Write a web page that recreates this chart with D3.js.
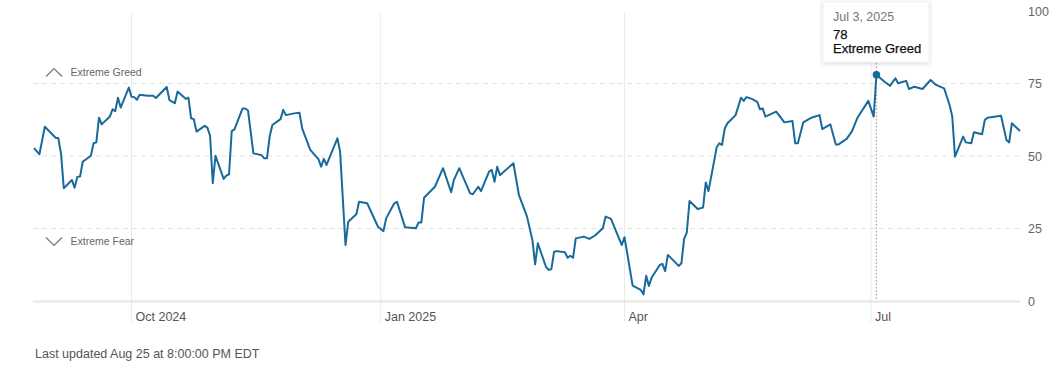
<!DOCTYPE html>
<html>
<head>
<meta charset="utf-8">
<script src="https://cdn.jsdelivr.net/npm/d3@7"></script>
<style>
  html, body { margin: 0; padding: 0; background: #fff; }
  svg { display: block; font-family: "Liberation Sans", Arial, Helvetica, sans-serif; }
</style>
</head>
<body>
<svg id="chart" width="1063" height="369"></svg>
<script>
const dates = [
"2024-08-26","2024-08-28","2024-08-30",
"2024-09-03","2024-09-04","2024-09-05","2024-09-06","2024-09-09","2024-09-10","2024-09-11","2024-09-12","2024-09-13","2024-09-16","2024-09-17","2024-09-18","2024-09-19","2024-09-20","2024-09-23","2024-09-24","2024-09-25","2024-09-26","2024-09-27","2024-09-30",
"2024-10-01","2024-10-02","2024-10-03","2024-10-04","2024-10-07","2024-10-09","2024-10-10","2024-10-14","2024-10-15","2024-10-17","2024-10-18","2024-10-21","2024-10-22","2024-10-23","2024-10-24","2024-10-25","2024-10-28","2024-10-29","2024-10-30","2024-10-31",
"2024-11-01","2024-11-04","2024-11-05","2024-11-06","2024-11-07","2024-11-08","2024-11-11","2024-11-12","2024-11-13","2024-11-15","2024-11-18","2024-11-19","2024-11-20","2024-11-21","2024-11-22","2024-11-25","2024-11-26","2024-11-27","2024-11-30",
"2024-12-02","2024-12-03","2024-12-04","2024-12-06","2024-12-09","2024-12-10","2024-12-11","2024-12-12","2024-12-16","2024-12-17","2024-12-19","2024-12-20","2024-12-23","2024-12-24","2024-12-27","2024-12-31",
"2025-01-02","2025-01-03","2025-01-06","2025-01-07","2025-01-10","2025-01-14","2025-01-15","2025-01-16","2025-01-17","2025-01-21","2025-01-24","2025-01-27","2025-01-28","2025-01-30",
"2025-02-03","2025-02-04","2025-02-06","2025-02-07","2025-02-10","2025-02-11","2025-02-12","2025-02-13","2025-02-14","2025-02-19","2025-02-21","2025-02-24","2025-02-26","2025-02-27","2025-02-28",
"2025-03-03","2025-03-04","2025-03-05","2025-03-06","2025-03-07","2025-03-10","2025-03-11","2025-03-12","2025-03-13","2025-03-14","2025-03-17","2025-03-19","2025-03-21","2025-03-24","2025-03-25","2025-03-27","2025-03-31",
"2025-04-01","2025-04-04","2025-04-07","2025-04-08","2025-04-09","2025-04-10","2025-04-11","2025-04-14","2025-04-15","2025-04-16","2025-04-17","2025-04-21","2025-04-22","2025-04-23","2025-04-24","2025-04-25","2025-04-28","2025-04-30",
"2025-05-01","2025-05-02","2025-05-05","2025-05-06","2025-05-07","2025-05-08","2025-05-09","2025-05-12","2025-05-14","2025-05-15","2025-05-16","2025-05-18","2025-05-20","2025-05-21","2025-05-22","2025-05-23","2025-05-27","2025-05-28","2025-05-30",
"2025-06-02","2025-06-03","2025-06-04","2025-06-06","2025-06-09","2025-06-12","2025-06-13","2025-06-16","2025-06-18","2025-06-19","2025-06-22","2025-06-24","2025-06-26","2025-06-30",
"2025-07-02","2025-07-03","2025-07-06","2025-07-08","2025-07-10","2025-07-11","2025-07-14","2025-07-15","2025-07-17","2025-07-20","2025-07-23","2025-07-25","2025-07-28","2025-07-30","2025-07-31",
"2025-08-01","2025-08-04","2025-08-05","2025-08-07","2025-08-08","2025-08-11","2025-08-12","2025-08-13","2025-08-18","2025-08-20","2025-08-21","2025-08-22","2025-08-25"
];
const values = [
52.7,50.6,60.1,
56.3,56.1,50.6,38.9,41.7,39.1,42.8,42.9,48.0,50.1,54.4,54.7,63.2,60.9,63.6,66.1,65.5,70.1,66.7,73.6,
70.4,70.3,69.4,71.1,70.8,70.8,70.0,73.8,69.3,68.2,72.2,69.7,70.1,63.0,62.7,58.4,60.4,59.8,57.0,40.6,
50.1,42.1,43.2,43.7,58.6,59.2,66.4,66.4,65.7,50.9,50.3,49.2,49.2,56.7,60.7,62.7,65.9,64.1,64.7,
64.9,59.5,57.0,52.1,48.9,46.3,49.0,46.9,56.1,51.5,19.3,27.3,29.9,34.2,33.7,25.6,
24.1,28.5,33.7,34.2,25.4,25.1,27.1,27.1,35.6,39.4,45.8,37.5,41.7,45.8,
37.1,36.8,39.4,37.9,44.6,45.2,41.1,46.3,43.4,47.5,36.6,29.1,21.0,12.6,19.9,
11.8,10.7,11.0,17.0,17.2,16.8,14.9,15.6,14.9,21.6,22.2,21.4,22.5,25.1,29.1,28.3,19.3,
22.0,5.3,3.8,2.3,8.7,5.2,8.0,12.4,12.8,10.3,15.9,12.1,13.0,21.4,23.7,34.5,31.7,32.2,
40.9,37.9,52.9,54.4,53.8,59.5,61.3,64.1,70.1,69.0,70.3,69.7,68.7,66.1,66.4,63.6,65.3,64.1,61.6,
62.1,54.4,54.4,61.6,63.2,64.1,59.3,60.9,54.0,54.0,55.9,58.6,63.2,69.0,
63.6,78,75.6,74.2,76.8,75.1,75.9,73.1,73.9,73.1,76.2,74.5,73.3,67.6,63.6,
49.8,56.7,54.7,54.4,58.2,57.5,62.4,63.2,63.9,55.5,54.7,61.3,58.6
];
const xTickDates = ["2024-10-01","2025-01-01","2025-04-01","2025-07-01"];
const xTickLabels = ["Oct 2024","Jan 2025","Apr","Jul"];
const yTicks = [0,25,50,75,100];
const gridLevels = [25,50,75];
const domainDates = ["2024-08-26","2025-08-25"];
const tooltipDate = "2025-07-03";
const tooltipValue = 78;
const tooltipDateLabel = "Jul 3, 2025";
const tooltipRating = "Extreme Greed";
const zoneLabels = ["Extreme Greed","Extreme Fear"];
const footerText = "Last updated Aug 25 at 8:00:00 PM EDT";

const parse = d3.timeParse("%Y-%m-%d");
const data = dates.map((d,i) => ({date: parse(d), value: values[i]}));

const svg = d3.select("#chart");
const x = d3.scaleTime().domain(domainDates.map(parse)).range([34, 1020]);
const y = d3.scaleLinear().domain([0,100]).range([301, 11]);

const lineColor = "#186a9b";

// defs
const defs = svg.append("defs");
const f = defs.append("filter").attr("id","shadow").attr("x","-20%").attr("y","-30%").attr("width","140%").attr("height","160%");
f.append("feDropShadow").attr("dx",0).attr("dy",1).attr("stdDeviation",2).attr("flood-color","#000").attr("flood-opacity",0.18);

// vertical month gridlines
svg.append("g").selectAll("line").data(xTickDates).join("line")
  .attr("x1", d => x(parse(d))).attr("x2", d => x(parse(d)))
  .attr("y1", y(100) + 2).attr("y2", 322)
  .attr("stroke", "#ebebeb").attr("stroke-width", 1);

// dashed horizontal grid
svg.append("g").selectAll("line").data(gridLevels).join("line")
  .attr("x1", 33).attr("x2", 1020)
  .attr("y1", d => y(d)).attr("y2", d => y(d))
  .attr("stroke", "#e2e2e2").attr("stroke-width", 1.2).attr("stroke-dasharray", "5,4");

// baseline
svg.append("line").attr("x1", 33).attr("x2", 1020).attr("y1", y(0)+0.5).attr("y2", y(0)+0.5)
  .attr("stroke", "#e6e6e6").attr("stroke-width", 2);

// x axis labels
const xAxis = d3.axisBottom(x).tickValues(xTickDates.map(parse))
  .tickFormat((d,i) => xTickLabels[i]).tickSize(0).tickPadding(0);
const gx = svg.append("g").attr("transform", `translate(0,${y(0)})`).call(xAxis);
gx.select(".domain").remove();
gx.selectAll("text").attr("text-anchor","start").attr("dx", 3.5).attr("dy", 0).attr("y", 20)
  .attr("fill", "#555").style("font-size","12.5px").style("font-family","'Liberation Sans', Arial, sans-serif");

// y axis right
const yAxis = d3.axisRight(y).tickValues(yTicks).tickSize(0).tickPadding(0);
const gy = svg.append("g").attr("transform", `translate(1028,0)`).call(yAxis);
gy.select(".domain").remove();
gy.selectAll("text").attr("fill", "#666").attr("x", 0).style("font-size","12.5px").style("font-family","'Liberation Sans', Arial, sans-serif");

// zone labels
const zl = svg.append("g").attr("fill", "none").attr("stroke", "#777").attr("stroke-width", 1.2);
const gY = y(75) - 11, fY = y(25) + 13;
zl.append("path").attr("d", `M46,${gY+4} L54,${gY-4} L62,${gY+4}`);
zl.append("path").attr("d", `M46,${fY-4} L54,${fY+4} L62,${fY-4}`);
svg.append("text").attr("x", 70.5).attr("y", gY + 3.8).text(zoneLabels[0])
  .attr("fill", "#666").style("font-size","10.5px");
svg.append("text").attr("x", 70.5).attr("y", fY + 3.8).text(zoneLabels[1])
  .attr("fill", "#666").style("font-size","10.5px");

// tooltip dotted line
const tx = x(parse(tooltipDate));
svg.append("line").attr("x1", tx).attr("x2", tx).attr("y1", 63).attr("y2", y(0))
  .attr("stroke", "#a8a8a8").attr("stroke-width", 1.3).attr("stroke-dasharray", "1.5,2");

// line
const line = d3.line().x(d => x(d.date)).y(d => y(d.value));
svg.append("path").datum(data).attr("d", line)
  .attr("fill", "none").attr("stroke", lineColor).attr("stroke-width", 2).attr("stroke-linejoin","round");

// dot
svg.append("circle").attr("cx", tx).attr("cy", y(tooltipValue)).attr("r", 3.8).attr("fill", lineColor);

// tooltip box
const tg = svg.append("g");
tg.append("rect").attr("x", 823).attr("y", 2).attr("width", 106).attr("height", 60)
  .attr("fill", "#fff").attr("stroke", "#eee").attr("stroke-width", 0.8).attr("filter", "url(#shadow)");
tg.append("text").attr("x", 833).attr("y", 20.5).text(tooltipDateLabel).attr("fill","#777").style("font-size","12.5px");
tg.append("text").attr("x", 833).attr("y", 39).text(String(tooltipValue)).attr("fill","#111").style("font-size","13px")
  .attr("stroke","#111").attr("stroke-width",0.25);
tg.append("text").attr("x", 833).attr("y", 52.5).text(tooltipRating).attr("fill","#111").style("font-size","13px")
  .attr("stroke","#111").attr("stroke-width",0.25);

// footer
svg.append("text").attr("x", 35).attr("y", 358).text(footerText).attr("fill","#555").style("font-size","12.5px");
</script>
</body>
</html>
